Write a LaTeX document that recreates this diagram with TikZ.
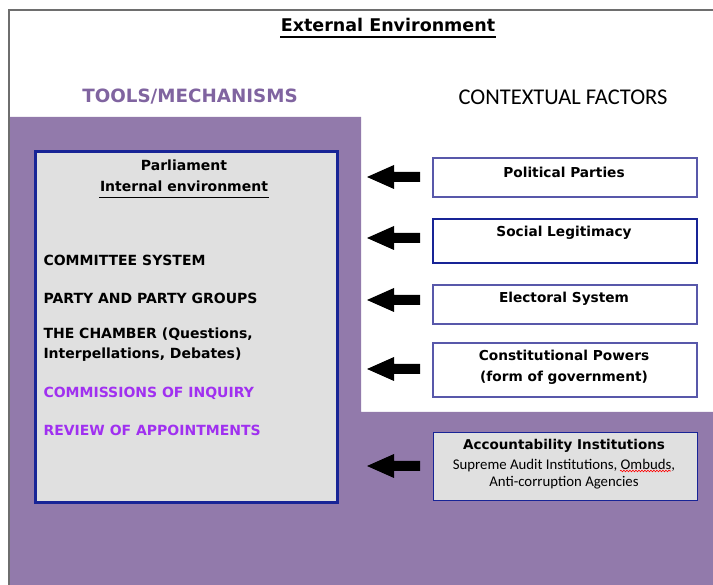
\documentclass[tikz,border=0pt]{standalone}
\usepackage{fontspec}
\setmainfont{DejaVu Sans}
\newfontfamily\narrowfont{Carlito}
\usetikzlibrary{decorations.pathmorphing}
\definecolor{bgpurple}{RGB}{146,122,171}
\definecolor{headpurple}{RGB}{128,100,160}
\definecolor{itempurple}{RGB}{160,48,240}
\definecolor{panelgray}{RGB}{224,224,224}
\definecolor{deepblue}{RGB}{24,36,150}
\definecolor{softblue}{RGB}{88,88,170}
\definecolor{framegray}{RGB}{110,110,110}
\tikzset{
  factor/.style={draw=softblue, line width=2pt, fill=white, minimum width=264pt, anchor=north west},
  factortext/.style={align=center, font=\bfseries\fontsize{13.7}{21}\selectfont},
  item/.style={anchor=west, font=\bfseries\fontsize{14}{20}\selectfont, align=left},
}
\begin{document}
\begin{tikzpicture}[x=1pt,y=-1pt]
\useasboundingbox (0,0) rectangle (713,585);
% page frame
\draw[framegray, line width=2pt] (9,585) -- (9,10) -- (713,10);
% purple backdrop (steps in around the contextual factors)
\fill[bgpurple] (10,117) -- (361,117) -- (361,412) -- (713,412) -- (713,585) -- (10,585) -- cycle;

% headings
\node (ext) at (388,25) {\bfseries\fontsize{17.5}{20}\selectfont External Environment};
\draw[line width=1.8pt] ([shift={(3,1.5)}]ext.south west) -- ([shift={(-3,1.5)}]ext.south east);
\node[text=headpurple] (tools) at (190,97) {\bfseries\fontsize{18.3}{20}\selectfont TOOLS/MECHANISMS};
\node (ctx) at (563,97) {\narrowfont\fontsize{22.5}{24}\selectfont CONTEXTUAL FACTORS};

% parliament panel
\node[draw=deepblue, line width=3pt, fill=panelgray, minimum width=302pt, minimum height=351pt, anchor=north west] (parl) at (34,150) {};
\node[font=\bfseries\fontsize{14}{15}\selectfont] (p1) at (184,165) {Parliament};
\node[font=\bfseries\fontsize{14}{15}\selectfont] (p2) at (184,186) {Internal environment};
\draw[line width=1.4pt] ([shift={(3,2.5)}]p2.south west) -- ([shift={(-3,2.5)}]p2.south east);
\node[item] (i1) at (40,260) {COMMITTEE SYSTEM};
\node[item] (i2) at (40,298) {PARTY AND PARTY GROUPS};
\node[item] (i3) at (40,345) {THE CHAMBER (Questions,\\Interpellations, Debates)};
\node[item, text=itempurple] (i4) at (40,393) {COMMISSIONS OF INQUIRY};
\node[item, text=itempurple] (i5) at (40,430) {REVIEW OF APPOINTMENTS};

% contextual factor boxes
\node[factor, minimum height=39pt] (f1) at (432,157) {};
\node[factortext] (l1) at (564,172) {Political Parties};
\node[factor, draw=deepblue, minimum height=44pt] (f2) at (432,218) {};
\node[factortext] (l2) at (564,233) {Social Legitimacy};
\node[factor, minimum height=39pt] (f3) at (432,284) {};
\node[factortext] (l3) at (564,299) {Electoral System};
\node[factor, minimum height=54pt] (f4) at (432,342) {};
\node[factortext] (l4) at (564,367.5) {Constitutional Powers\\(form of government)};
\node[draw=deepblue, line width=1.2pt, fill=panelgray, minimum width=264pt, minimum height=68pt, anchor=north west] (f5) at (433,432) {};
\node[font=\bfseries\fontsize{13.5}{15}\selectfont] (a1) at (564,446) {Accountability Institutions};
\node[font=\narrowfont\fontsize{14.8}{17.5}\selectfont, align=center] (a2) at (564,474) {Supreme Audit Institutions, Ombuds,\\Anti-corruption Agencies};
\draw[red, line width=0.6pt, decorate, decoration={snake, amplitude=0.8pt, segment length=3pt}] (620,471) -- (671,471);

% fat arrows from each factor towards the panel
\foreach \f/\y in {f1/177, f2/238, f3/300, f4/369, f5/466} {
  \coordinate (t\f) at (367,\y);
  \fill (t\f) -- ++(27,-12) -- ++(0,7) -- ++(26,0) -- ++(0,10) -- ++(-26,0) -- ++(0,7) -- cycle;
}
\end{tikzpicture}
\end{document}
